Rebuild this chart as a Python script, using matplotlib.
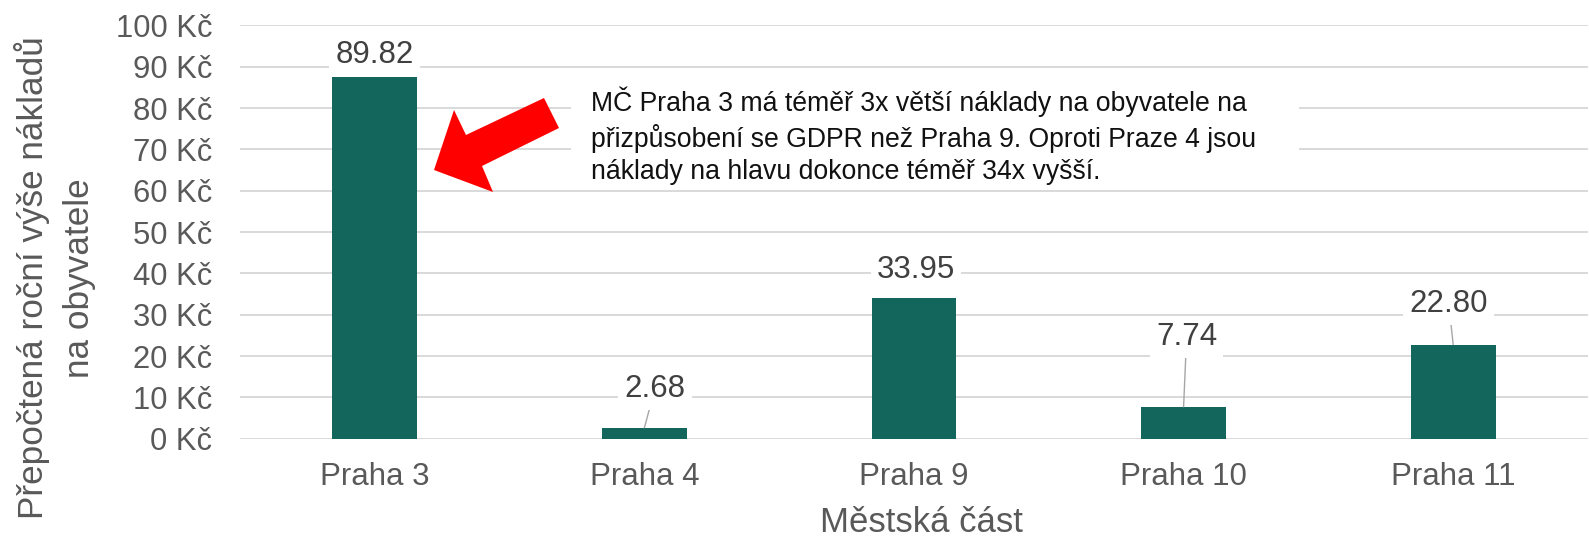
import matplotlib
matplotlib.use("Agg")
import matplotlib.pyplot as plt
from matplotlib.patches import Polygon, Rectangle

plt.rcParams['font.family'] = ['Liberation Sans', 'DejaVu Sans']

# ---- data ----
categories = ["Praha 3", "Praha 4", "Praha 9", "Praha 10", "Praha 11"]
bar_values = [87.6, 2.68, 33.95, 7.74, 22.80]
label_texts = ["89.82", "2.68", "33.95", "7.74", "22.80"]
y_ticks = [0, 10, 20, 30, 40, 50, 60, 70, 80, 90, 100]
y_tick_labels = [f"{v} Kč" for v in y_ticks]
note_text = ("MČ Praha 3 má téměř 3x větší náklady na obyvatele na\n"
             "přizpůsobení se GDPR než Praha 9. Oproti Praze 4 jsou\n"
             "náklady na hlavu dokonce téměř 34x vyšší.")

# label offsets from bar top (pixels) and whether a leader line is drawn
label_offsets_px = [(0, 22), (10.5, 39), (2, 28), (3, 70), (-4.5, 41)]
leader = [False, True, False, True, True]

W, H = 1589, 537
fig = plt.figure(figsize=(W / 100, H / 100), dpi=100)

def fx(x):
    return x / W

def fy(y):
    return 1 - y / H

ax_left, ax_right, ax_top, ax_bottom = 240, 1588, 25.3, 438.8
ax = fig.add_axes([fx(ax_left), fy(ax_bottom), (ax_right - ax_left) / W, (ax_bottom - ax_top) / H])

bar_color = "#12665C"
text_gray = "#595959"
grid_color = "#D9D9D9"

x = list(range(len(categories)))
ax.bar(x, bar_values, width=0.315, color=bar_color, zorder=3)

ax.set_xlim(-0.5, len(categories) - 0.5)
ax.set_ylim(0, 100)
ax.set_yticks(y_ticks)
ax.set_yticklabels(y_tick_labels)
ax.set_xticks(x)
ax.set_xticklabels(categories)
ax.tick_params(axis='y', length=0, pad=20, labelsize=22.3, labelcolor=text_gray)
ax.tick_params(axis='x', length=0, pad=17, labelsize=22.5, labelcolor=text_gray)
ax.grid(axis='y', color=grid_color, linewidth=1.4, zorder=0)
ax.set_axisbelow(True)
for s in ax.spines.values():
    s.set_visible(False)

# data labels
for i, (v, t) in enumerate(zip(bar_values, label_texts)):
    dx, dy = label_offsets_px[i]
    props = dict(arrowstyle='-', color='#A6A6A6', lw=1.0, shrinkA=0, shrinkB=0) if leader[i] else None
    ax.annotate(t, xy=(i, v), xytext=(dx * 0.72, dy * 0.72), textcoords='offset points',
                ha='center', va='center', fontsize=22.5, color="#404040",
                bbox=dict(boxstyle='square,pad=0.2', fc='white', ec='none'),
                arrowprops=props, zorder=5)

# white note box
fig.patches.append(Rectangle((fx(571), fy(186)), (1299 - 571) / W, (186 - 78) / H,
                             transform=fig.transFigure, facecolor='white', edgecolor='none',
                             zorder=4))
fig.text(fx(591), fy(136), note_text, ha='left', va='center', fontsize=19.2, color='#111111',
         linespacing=1.31, zorder=6)

# red arrow
arrow_px = [(434, 170), (454, 110), (466, 135), (544, 98), (559, 128), (482, 166), (493, 192)]
fig.patches.append(Polygon([(fx(a), fy(b)) for a, b in arrow_px], closed=True,
                           transform=fig.transFigure, facecolor='#FF0000', edgecolor='none',
                           zorder=7))

# axis titles
fig.text(fx(921), fy(522), "Městská část", ha='center', va='center', fontsize=25, color=text_gray)
fig.text(fx(55), fy(278), "Přepočtená roční výše nákladů\nna obyvatele", ha='center', va='center',
         rotation=90, fontsize=25.3, color=text_gray, multialignment='center', linespacing=1.5)

fig.savefig("out.png", dpi=100)
